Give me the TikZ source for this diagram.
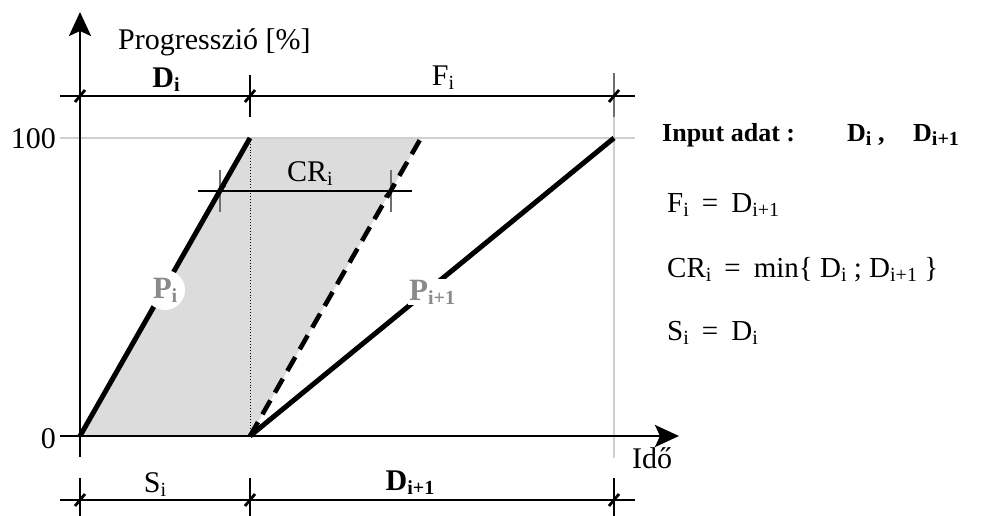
\documentclass[tikz,border=0pt]{standalone}
\usepackage{fontspec}
\setmainfont{Liberation Serif}
\usetikzlibrary{arrows.meta}
\definecolor{fillgray}{HTML}{DCDCDC}
\definecolor{gridgray}{HTML}{CFCFCF}
\definecolor{labgray}{HTML}{8A8A8A}
\definecolor{tickgray}{HTML}{6E6E6E}
\newcommand\sbi[1]{\raisebox{-4pt}{\fontsize{20}{20}\selectfont #1}}
\newcommand\eqs{\hspace{0.45em}=\hspace{0.45em}}
\begin{document}
\begin{tikzpicture}[x=1pt,y=-1pt,
  font=\fontsize{30}{36}\selectfont,
  axis/.style={line width=2.8pt},
  bigarrow/.style={-{Stealth[length=24pt,width=22pt,inset=5pt]}},
  thickline/.style={line width=5pt},
  dimline/.style={line width=1.2pt},
  tickline/.style={line width=1.2pt},
  gridline/.style={line width=1.6pt, gridgray},
  slashmark/.pic={\draw[line width=2.8pt] (-5,6) -- (5,-6);},
  lbl/.style={inner sep=0pt},
  rtext/.style={inner sep=0pt, anchor=base west, font=\fontsize{29}{34}\selectfont},
  rbold/.style={inner sep=0pt, anchor=base west, font=\fontsize{26}{32}\selectfont\bfseries},
  plbl/.style={font=\fontsize{31}{36}\selectfont\bfseries, text=labgray, fill=white}
]
\useasboundingbox (0,0) rectangle (986,516);

% key points
\coordinate (O) at (80,436);
\coordinate (A) at (250,138);
\coordinate (B) at (250,436);
\coordinate (C) at (421,138);
\coordinate (E) at (614,138);

% shaded region
\fill[fillgray] (O) -- (A) -- (C) -- (B) -- cycle;
\draw[dotted, line width=0.9pt] (A) -- (B);

% grid lines
\coordinate (g1) at (60,138);
\coordinate (g2) at (635,138);
\draw[gridline] (g1) -- (g2);
\coordinate (v1) at (614,117);
\coordinate (v2) at (614,458);
\draw[gridline] (v1) -- (v2);

% axes
\coordinate (ybot) at (80,457);
\coordinate (ytop) at (80,12);
\coordinate (xl) at (60,436);
\coordinate (xr) at (679,436);
\draw[axis, bigarrow] (ybot) -- (ytop);
\draw[axis, bigarrow] (xl) -- (xr);

% top dimension line
\coordinate (t1) at (60,96);
\coordinate (t2) at (635,96);
\draw[dimline] (t1) -- (t2);
\draw[tickline] (250,75) -- (250,117);
\draw[tickline, tickgray] (614,73) -- (614,117);
\pic at (80,96) {slashmark};
\pic at (250,96) {slashmark};
\pic at (614,96) {slashmark};

% CR dimension line
\coordinate (c1) at (198,191);
\coordinate (c2) at (412,191);
\draw[dimline] (c1) -- (c2);
\draw[tickline, tickgray] (220,170) -- (220,212);
\draw[tickline, tickgray] (391,170) -- (391,212);

% bottom dimension line
\coordinate (b1) at (60,500);
\coordinate (b2) at (635,500);
\draw[dimline] (b1) -- (b2);
\draw[tickline] (80,478) -- (80,516);
\draw[tickline] (250,478) -- (250,516);
\draw[tickline] (614,478) -- (614,516);
\pic at (80,500) {slashmark};
\pic at (250,500) {slashmark};
\pic at (614,500) {slashmark};

% progress lines
\draw[thickline] (O) -- (A);
\draw[thickline] (B) -- (E);
\draw[line width=4.6pt, dash pattern=on 16pt off 9pt] (B) -- (C);
\pic at (220,191) {slashmark};
\pic at (390,191) {slashmark};

% line labels
\node[plbl, circle, inner sep=1pt, minimum size=40pt] (pi) at (165,290) {P\sbi{i}};
\node[plbl, inner sep=1pt, anchor=base west] (pii) at (408,300) {P\sbi{i+1}};

% axis labels
\node[lbl, anchor=base west] (ylab) at (118,50) {Progresszió [\%]};
\node[lbl, anchor=base east] (l100) at (56,149) {100};
\node[lbl, anchor=base east] (l0) at (56,448) {0};
\node[lbl, anchor=base west] (xlab) at (632,468) {Idő};

% dimension labels
\node[lbl, anchor=base, font=\fontsize{30}{36}\selectfont\bfseries] (di) at (166,88) {D\sbi{i}};
\node[lbl, anchor=base] (fi) at (443,86) {F\sbi{i}};
\node[lbl, anchor=base] (cri) at (310,182) {CR\sbi{i}};
\node[lbl, anchor=base] (si) at (155,492) {S\sbi{i}};
\node[lbl, anchor=base, font=\fontsize{30}{36}\selectfont\bfseries] (dii) at (410,490) {D\sbi{i+1}};

% right-hand text
\node[rbold] (in1) at (662,142) {Input adat :};
\node[rbold] (in2) at (847,142) {D\sbi{i} ,};
\node[rbold] (in3) at (913,142) {D\sbi{i+1}};
\node[rtext] (eq1) at (667,213) {F\sbi{i}\eqs D\sbi{i+1}};
\node[rtext] (eq2) at (667,277) {CR\sbi{i}\eqs min\{ D\sbi{i} ; D\sbi{i+1} \}};
\node[rtext] (eq3) at (667,340) {S\sbi{i}\eqs D\sbi{i}};
\end{tikzpicture}
\end{document}
